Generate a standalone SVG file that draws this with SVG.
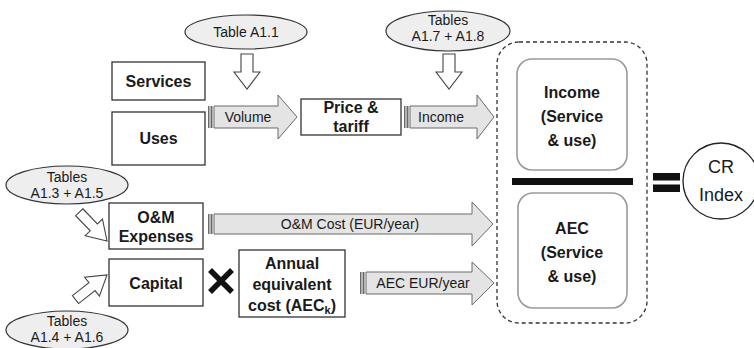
<svg xmlns="http://www.w3.org/2000/svg" width="754" height="348" viewBox="0 0 754 348">
<style>
text{font-family:"Liberation Sans",Arial,sans-serif;fill:#1a1a1a;text-anchor:middle}
.b{font-weight:bold;font-size:16px}
.r{font-size:14px}
.ell{fill:#eeeeee;stroke:#333;stroke-width:1.2}
.box{fill:#fff;stroke:#333;stroke-width:1.3}
.inner{fill:#fff;stroke:#9a9a9a;stroke-width:1.6}
.blk{fill:#fff;stroke:#444;stroke-width:1.1}
.harr{fill:#e4e4e4;stroke:#6a6a6a;stroke-width:1}
.strip{fill:#6a6a6a}
</style>
<rect width="754" height="348" fill="#fff"/>

<g id="table-a11">
<ellipse class="ell" cx="246" cy="32" rx="61" ry="17"/>
<text class="r" x="246" y="37">Table A1.1</text>
</g>
<g id="tables-a17-a18">
<ellipse class="ell" cx="448" cy="31" rx="62" ry="20"/>
<text class="r" x="448" y="25">Tables</text>
<text class="r" x="448" y="41">A1.7 + A1.8</text>
</g>
<g id="tables-a13-a15">
<ellipse class="ell" cx="67" cy="185" rx="61" ry="19"/>
<text class="r" x="67" y="182">Tables</text>
<text class="r" x="67" y="198">A1.3 + A1.5</text>
</g>
<g id="tables-a14-a16">
<ellipse class="ell" cx="67" cy="330" rx="61" ry="19"/>
<text class="r" x="67" y="326">Tables</text>
<text class="r" x="67" y="342">A1.4 + A1.6</text>
</g>

<g id="services">
<rect class="box" x="112" y="62" width="93" height="38"/>
<text class="b" x="158.5" y="87">Services</text>
</g>
<g id="uses">
<rect class="box" x="112" y="112" width="93" height="53"/>
<text class="b" x="158.5" y="144">Uses</text>
</g>
<g id="price-tariff">
<rect class="box" x="301" y="99" width="100" height="36"/>
<text class="b" x="351" y="113">Price &amp;</text>
<text class="b" x="351" y="132">tariff</text>
</g>
<g id="om-expenses">
<rect class="box" x="109" y="203" width="94" height="46"/>
<text class="b" x="156" y="223">O&amp;M</text>
<text class="b" x="156" y="242">Expenses</text>
</g>
<g id="capital">
<rect class="box" x="109" y="259" width="94" height="47"/>
<text class="b" x="156" y="289">Capital</text>
</g>
<g id="annual-equivalent-cost">
<rect class="box" x="239" y="250" width="106" height="67"/>
<text class="b" x="292" y="269">Annual</text>
<text class="b" x="292" y="290">equivalent</text>
<text class="b" x="292" y="311">cost (AEC<tspan font-size="11" dy="3">k</tspan><tspan dy="-3">)</tspan></text>
</g>
<g id="times">
<path d="M210,270 L232,292 M232,270 L210,292" stroke="#111" stroke-width="5.5" fill="none"/>
</g>

<g id="cr-container">
<rect x="497" y="42" width="150" height="281" rx="22" fill="none" stroke="#333" stroke-width="1.3" stroke-dasharray="4,3"/>
</g>
<g id="income-box">
<rect class="inner" x="517" y="59" width="110" height="111" rx="15"/>
<text class="b" x="572" y="98">Income</text>
<text class="b" x="572" y="122">(Service</text>
<text class="b" x="572" y="146">&amp; use)</text>
</g>
<g id="fraction-bar">
<rect x="512" y="178" width="121" height="7" fill="#111"/>
</g>
<g id="aec-box">
<rect class="inner" x="518" y="193" width="109" height="115" rx="15"/>
<text class="b" x="572" y="234">AEC</text>
<text class="b" x="572" y="258">(Service</text>
<text class="b" x="572" y="282">&amp; use)</text>
</g>
<g id="equals">
<rect x="653" y="173" width="27" height="7.5" fill="#111"/>
<rect x="653" y="184.5" width="27" height="7.5" fill="#111"/>
</g>
<g id="cr-index">
<circle cx="721" cy="181" r="38" fill="#fff" stroke="#222" stroke-width="1.3"/>
<text x="721" y="173" font-size="18">CR</text>
<text x="721" y="201" font-size="18">Index</text>
</g>

<g id="connectors">
<path class="blk" d="M241,54 L253,54 L253,72 L260,72 L247,89 L234,72 L241,72 Z"/>
<path class="blk" d="M443,54 L455,54 L455,72 L462,72 L449,89 L436,72 L443,72 Z"/>
<path class="blk" transform="translate(107,241) rotate(46)" d="M-40,-5 L-19,-5 L-19,-12 L0,0 L-19,12 L-19,5 L-40,5 Z"/>
<path class="blk" transform="translate(107,275) rotate(-38)" d="M-40,-5 L-19,-5 L-19,-12 L0,0 L-19,12 L-19,5 L-40,5 Z"/>
<g id="volume-arrow">
<rect class="strip" x="208" y="106" width="1.5" height="22"/>
<rect class="strip" x="210.5" y="106" width="2" height="22"/>
<path class="harr" d="M214,106 L278,106 L278,95 L297,117 L278,139 L278,128 L214,128 Z"/>
<text class="r" x="248" y="122">Volume</text>
</g>
<g id="income-arrow">
<rect class="strip" x="404" y="106" width="1.5" height="22"/>
<rect class="strip" x="406.5" y="106" width="2" height="22"/>
<path class="harr" d="M410,106 L477,106 L477,95 L494,117 L477,139 L477,128 L410,128 Z"/>
<text class="r" x="441" y="122">Income</text>
</g>
<g id="om-cost-arrow">
<rect class="strip" x="208" y="214" width="1.5" height="20"/>
<rect class="strip" x="210.5" y="214" width="2" height="20"/>
<path class="harr" d="M214,214 L472,214 L472,202 L493,224 L472,246 L472,234 L214,234 Z"/>
<text class="r" x="350" y="229">O&amp;M Cost (EUR/year)</text>
</g>
<g id="aec-arrow">
<rect class="strip" x="360" y="272" width="1.5" height="22"/>
<rect class="strip" x="362.5" y="272" width="2" height="22"/>
<path class="harr" d="M366,272 L472,272 L472,262 L494,283 L472,305 L472,294 L366,294 Z"/>
<text class="r" x="423" y="288">AEC EUR/year</text>
</g>
</g>
</svg>
